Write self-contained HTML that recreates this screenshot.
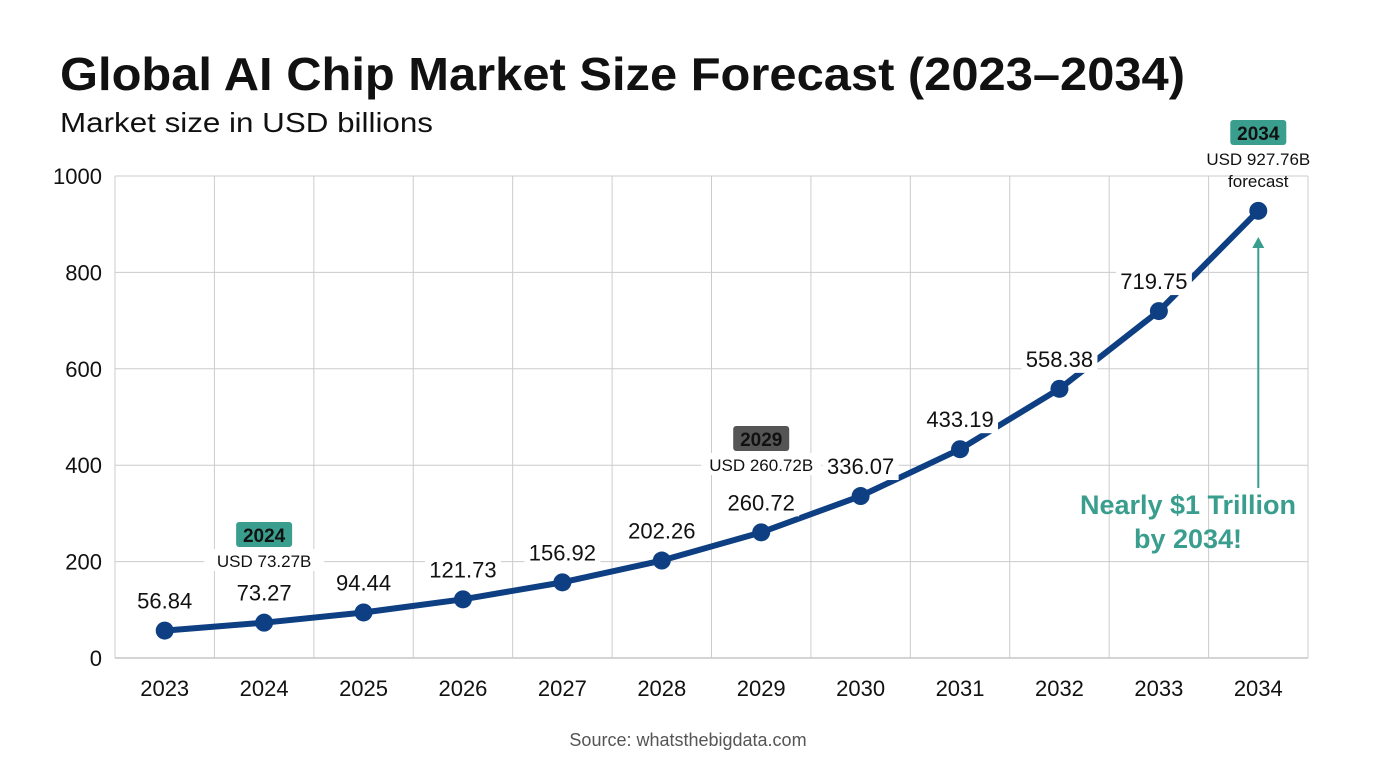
<!DOCTYPE html>
<html><head><meta charset="utf-8"><style>
body{margin:0;background:#fff;width:1376px;height:768px;overflow:hidden;font-family:"Liberation Sans","DejaVu Sans",sans-serif}
</style></head><body>
<svg width="1376" height="768" xmlns="http://www.w3.org/2000/svg">
<text x="60" y="90" font-size="46" font-weight="bold" fill="#111" textLength="1125" lengthAdjust="spacingAndGlyphs">Global AI Chip Market Size Forecast (2023–2034)</text>
<text x="60" y="132" font-size="28" fill="#111" textLength="373" lengthAdjust="spacingAndGlyphs">Market size in USD billions</text>
<g id="grid"></g><g id="axes"></g><g id="series"></g><g id="ann"></g>
<text x="688" y="746" font-size="18" fill="#555" text-anchor="middle">Source: whatsthebigdata.com</text>
</svg>
<script>
const years=["2023","2024","2025","2026","2027","2028","2029","2030","2031","2032","2033","2034"];
const values=[56.84,73.27,94.44,121.73,156.92,202.26,260.72,336.07,433.19,558.38,719.75,927.76];
const yTicks=[0,200,400,600,800,1000];
const NS="http://www.w3.org/2000/svg";
const L=115,R=1308,T=176,B=658,step=(R-L)/years.length;
const x=i=>L+step*(i+0.5);
const y=v=>B-(v/1000)*(B-T);
function mk(tag,attrs,parent,txt){const e=document.createElementNS(NS,tag);for(const k in attrs)e.setAttribute(k,attrs[k]);if(txt!==undefined)e.textContent=txt;document.getElementById(parent).appendChild(e);return e;}
yTicks.forEach(t=>{
 const g=mk('line',{x1:L,x2:R,y1:y(t),y2:y(t),stroke:t===0?'#aaa':'#ccc','stroke-width':1},'grid');
 
 
 const lb=mk('text',{x:102,y:y(t)+8,'font-size':22,'text-anchor':'end',fill:'#111'},'axes',String(t));
 
 
});
for(let i=0;i<=years.length;i++){
 const g=mk('line',{x1:L+step*i,x2:L+step*i,y1:T,y2:B,stroke:'#ccc','stroke-width':1},'grid');
 
 
}
years.forEach((yr,i)=>{
 const lb=mk('text',{x:x(i),y:696,'font-size':22,'text-anchor':'middle',fill:'#111'},'axes',yr);
 
 
});
const pl=mk('polyline',{points:values.map((v,i)=>x(i)+','+y(v)).join(' '),fill:'none',stroke:'#0d3f82','stroke-width':6,'stroke-linejoin':'round'},'series');


values.forEach((v,i)=>{
 const c=mk('circle',{cx:x(i),cy:y(v),r:9,fill:'#0d3f82'},'series');
 
 
 if(i<11){
  const tx=x(i)+(i===10?-5:0), ty=y(v)-22;
  const bg=mk('rect',{x:tx-38,y:ty-22,width:76,height:28,fill:'#fff'},'series');
  
  
  const t=mk('text',{x:tx,y:ty,'font-size':22,'text-anchor':'middle',fill:'#111'},'series',v.toFixed(2));
  
  
 }
});
function badge(cx,cy,label,color,sub,sub2){
 const r=mk('rect',{x:cx-28,y:cy-13,width:56,height:25,rx:3,fill:color},'ann');
 
 
 const t=mk('text',{x:cx,y:cy+7,'font-size':19,'font-weight':'bold','text-anchor':'middle',fill:'#111'},'ann',label);
 
 
 const b=mk('rect',{x:cx-60,y:cy+14,width:120,height:22,fill:'#fff'},'ann');
 
 
 const s=mk('text',{x:cx,y:cy+32,'font-size':17,'text-anchor':'middle',fill:'#111'},'ann',sub);
 
 
 if(sub2){const s2=mk('text',{x:cx,y:cy+54,'font-size':17,'text-anchor':'middle',fill:'#111'},'ann',sub2);
 
 }
}
badge(x(1),535,'2024','#3a9e8e','USD '+values[1]+'B');
badge(x(6),439,'2029','#555','USD '+values[6]+'B');
badge(x(11),133,'2034','#3a9e8e','USD '+values[11]+'B','forecast');
const ar=mk('line',{x1:x(11),x2:x(11),y1:488,y2:245,stroke:'#3a9e8e','stroke-width':2},'ann');


const ah=mk('polygon',{points:`${x(11)-6},248 ${x(11)+6},248 ${x(11)},237`,fill:'#3a9e8e'},'ann');


const n1=mk('text',{x:1188,y:514,'font-size':27,'font-weight':'bold','text-anchor':'middle',fill:'#3a9e8e'},'ann','Nearly $1 Trillion');


const n2=mk('text',{x:1188,y:548,'font-size':27,'font-weight':'bold','text-anchor':'middle',fill:'#3a9e8e'},'ann','by 2034!');


</script>
</body></html>
